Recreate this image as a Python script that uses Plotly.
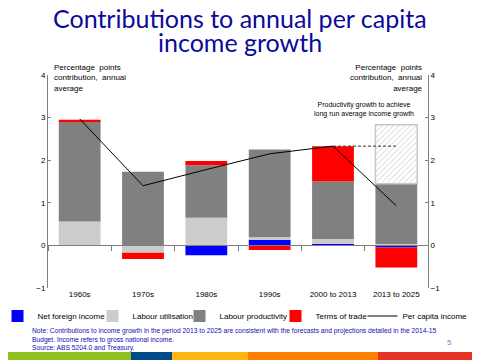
import plotly.graph_objects as go

categories = ["1960s", "1970s", "1980s", "1990s", "2000 to 2013", "2013 to 2025"]
net_foreign_income = [0.0, 0.0, -0.23, 0.13, 0.03, -0.05]
labour_utilisation = [0.56, -0.17, 0.65, 0.06, 0.12, 0.03]
labour_productivity = [2.35, 1.73, 1.23, 2.06, 1.35, 1.42]
terms_of_trade = [0.04, -0.15, 0.10, -0.11, 0.83, -0.47]
productivity_to_achieve = [None, None, None, None, None, 1.38]
per_capita_income = [2.97, 1.40, 1.78, 2.15, 2.33, 0.93]
long_run_cats = ["2000 to 2013", "2013 to 2025"]
long_run_avg = [2.33, 2.33]
y_ticks = [-1, 0, 1, 2, 3, 4]

BLUE = "#0000FF"
LGREY = "#CCCCCC"
DGREY = "#808080"
RED = "#FF0000"
NAVY = "#0A0A9A"
AXIS = "#808080"


def px_y(py):
    return (288 - py) / 213.0


def px_x(px):
    return (px - 48) / 380.0


fig = go.Figure()
fig.add_trace(go.Bar(name="Net foreign income", x=categories, y=net_foreign_income,
                     legend="legend", marker=dict(color=BLUE, line=dict(width=0))))
fig.add_trace(go.Bar(name="Labour utilisation", x=categories, y=labour_utilisation,
                     legend="legend2", marker=dict(color=LGREY, line=dict(width=0))))
fig.add_trace(go.Bar(name="Labour productivity", x=categories, y=labour_productivity,
                     legend="legend3", marker=dict(color=DGREY, line=dict(width=0))))
fig.add_trace(go.Bar(name="Terms of trade", x=categories, y=terms_of_trade,
                     legend="legend4", marker=dict(color=RED, line=dict(width=0))))
fig.add_trace(go.Bar(name="Productivity growth to achieve long run average income growth",
                     x=categories, y=productivity_to_achieve, showlegend=False,
                     marker=dict(color="white", line=dict(color="#C8C8C8", width=1.5),
                                 pattern=dict(shape="/", fgcolor="#9A9A9A", bgcolor="white",
                                              size=4, solidity=0.22))))
fig.add_trace(go.Scatter(name="Per capita income", x=categories, y=per_capita_income,
                         legend="legend5",
                         mode="lines", line=dict(color="black", width=1), xaxis="x2"))
fig.add_trace(go.Scatter(name="Long run average", x=long_run_cats, y=long_run_avg,
                         mode="lines", line=dict(color="#303030", width=1, dash="3px,2px"),
                         showlegend=False, xaxis="x2", yaxis="y2"))

tickfont = dict(family="Liberation Sans, Arial", size=8, color="black")
legfont = dict(family="Liberation Sans, Arial", size=8, color="black")


def leg(left_px):
    return dict(orientation="h", x=px_x(left_px), xanchor="left",
                y=px_y(316), yanchor="middle", font=legfont, itemwidth=30,
                bgcolor="rgba(0,0,0,0)", borderwidth=0)


# The page body adds an 8px offset, so the figure is laid out 8px up/left.
fig.update_layout(
    width=480, height=360,
    margin=dict(l=40, r=60, t=67, b=80, autoexpand=False),
    paper_bgcolor="white", plot_bgcolor="white",
    barmode="relative", bargap=0.34,
    showlegend=True,
    legend=leg(-2.5), legend2=leg(92.5), legend3=leg(179.5),
    legend4=leg(275.5), legend5=leg(362.5),
    xaxis=dict(type="category", categoryorder="array", categoryarray=categories,
               range=[-0.5, 5.5], showgrid=False, zeroline=False, showline=False,
               ticks="", showticklabels=True, tickfont=tickfont, tickangle=0),
    xaxis2=dict(type="category", categoryorder="array", categoryarray=categories,
                matches="x", overlaying="x", anchor="free", position=0.2,
                showgrid=False, zeroline=False, showline=True, linecolor=AXIS, linewidth=1,
                ticks="outside", tickson="boundaries", ticklen=5, tickcolor=AXIS,
                showticklabels=False),
    yaxis=dict(range=[-1, 4], tickvals=y_ticks, showgrid=False, zeroline=False,
               showline=True, linecolor=AXIS, linewidth=1, ticks="inside", ticklen=3,
               tickcolor=AXIS, tickfont=tickfont),
    yaxis2=dict(range=[-1, 4], matches="y", overlaying="y", side="right", anchor="x",
                tickvals=y_ticks, showgrid=False, zeroline=False,
                showline=True, linecolor=AXIS, linewidth=1, ticks="inside", ticklen=3,
                tickcolor=AXIS, tickfont=tickfont),
)

annotations = [
    dict(text="Contributions to annual per capita", x=px_x(240), y=px_y(18),
         font=dict(family="Lato, Open Sans", size=25, color=NAVY)),
    dict(text="income growth", x=px_x(240), y=px_y(42),
         font=dict(family="Lato, Open Sans", size=25, color=NAVY)),
    dict(text="Percentage  points<br>contribution,  annual<br>average", x=px_x(52), y=px_y(61),
         xanchor="left", yanchor="top", align="left",
         font=dict(family="Liberation Sans, Arial", size=8, color="black")),
    dict(text="Percentage  points<br>contribution,  annual<br>average", x=px_x(425), y=px_y(61),
         xanchor="right", yanchor="top", align="right",
         font=dict(family="Liberation Sans, Arial", size=8, color="black")),
    dict(text="Productivity growth to achieve<br>long run average income growth",
         x=px_x(364), y=px_y(109), align="center",
         font=dict(family="Liberation Sans, Arial", size=7, color="black")),
    dict(text="Note: Contributions to income growth in the period 2013 to 2025 are consistent with the forecasts and projections detailed in the 2014-15<br>"
              "Budget. Income refers to gross national income.<br>Source: ABS 5204.0 and Treasury.",
         x=px_x(30), y=px_y(325), xanchor="left", yanchor="top", align="left",
         font=dict(family="Liberation Sans, Arial", size=6.7, color="#1010B0")),
    dict(text="5", x=px_x(449), y=px_y(342),
         font=dict(family="Liberation Sans, Arial", size=8, color="#8080C0")),
]
for a in annotations:
    a.setdefault("xref", "paper")
    a.setdefault("yref", "paper")
    a.setdefault("showarrow", False)
    a.setdefault("xanchor", "center")
    a.setdefault("yanchor", "middle")
fig.update_layout(annotations=annotations)

stripe = [(0, 131, "#8CC11F"), (131, 172, "#004A87"), (172, 248, "#FDB813"),
          (248, 378, "#FF8000"), (378, 490, "#E63323")]
for x0, x1, c in stripe:
    fig.add_shape(type="rect", xref="paper", yref="paper",
                  x0=px_x(x0), x1=px_x(x1), y0=px_y(360), y1=px_y(352),
                  fillcolor=c, line=dict(width=0))

fig.write_html("out.html")
